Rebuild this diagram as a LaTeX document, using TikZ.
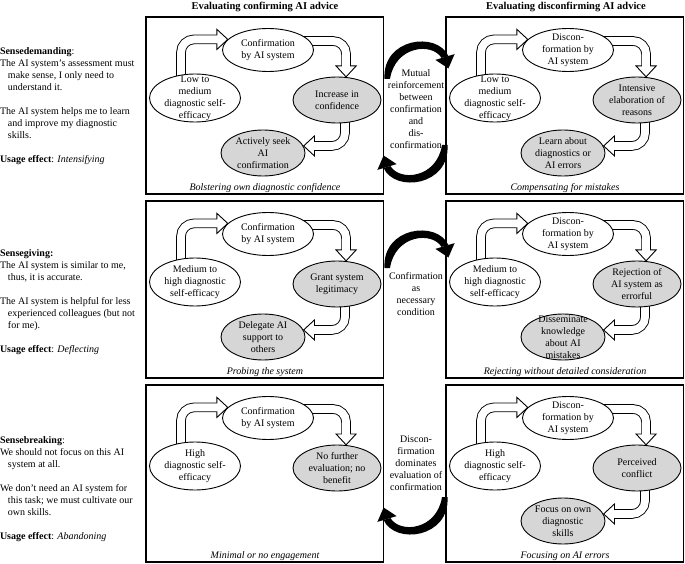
\documentclass[tikz,border=0pt]{standalone}
\usepackage{fontspec}
\setmainfont{Liberation Serif}
\usetikzlibrary{shapes.geometric,arrows.meta,backgrounds,calc}
\newcommand\hollowarrow[1]{%
  \draw[rounded corners=13pt, line width=9.6pt, shorten >=10pt] #1;
  \draw[rounded corners=13pt, line width=0.9pt, -{Triangle[length=12pt,width=22pt,fill=white]}] #1;
  \draw[rounded corners=13pt, line width=7.8pt, white, shorten >=10pt] #1;
}
\newcommand\mkbox[2]{\node[panel] (#1box) at (0,0) {};
  \node[capt] (#1cap) at (119,171) {#2};}
\newcommand\mkconf[2]{\node[ell, minimum width=91pt, minimum height=43pt] (#1c) at (122,33) {};
  \node[etxt] (#1ct) at (#1c) {#2};}
\newcommand\mklow[2]{\node[ell, minimum width=91pt, minimum height=48pt] (#1l) at (49,81) {};
  \node[etxt] (#1lt) at (#1l) {#2};}
\newcommand\mkgone[2]{\node[gell, minimum width=88pt, minimum height=46pt] (#1g) at (191,83) {};
  \node[etxt] (#1gt) at (#1g) {#2};}
\newcommand\mkgtwo[2]{\node[gell, minimum width=84pt, minimum height=46pt] (#1h) at (117,136) {};
  \node[etxt] (#1ht) at (#1h) {#2};}
\newcommand\mkarrows[1]{%
  \hollowarrow{($(#1l)+(-14,-12)$) |- (#1c.165)}
  \hollowarrow{($(#1c)+(30,-9)$) -| (#1g.68)}}
\newcommand\mkarrowthree[1]{%
  \hollowarrow{($(#1g)+(8,10)$) |- (#1h.10)}}
\begin{document}
\begin{tikzpicture}[x=1pt,y=-1pt,
  every node/.style={inner sep=0pt, outer sep=0pt, font=\fontsize{10}{12}\selectfont},
  ell/.style={ellipse, draw, line width=0.9pt, fill=white},
  gell/.style={ellipse, draw, line width=0.9pt, fill=black!16},
  etxt/.style={align=center},
  capt/.style={font=\fontsize{10}{12}\selectfont\itshape},
  panel/.style={draw, line width=1.1pt, anchor=north west, minimum width=237.5pt, minimum height=177pt},
  headtxt/.style={font=\fontsize{10.5}{12}\selectfont\bfseries},
  side/.style={align=left, anchor=north west},
  midtxt/.style={align=center},
]
\useasboundingbox (0,0) rectangle (685,564);
\node[headtxt] (hl) at (265,7) {Evaluating confirming AI advice};
\node[headtxt] (hr) at (566,7) {Evaluating disconfirming AI advice};

\node[side] (s1) at (0,47.7) {\textbf{Sensedemanding}:\\
The AI system's assessment must\\
\hspace*{8pt}make sense, I only need to\\
\hspace*{8pt}understand it.\\[12pt]
The AI system helps me to learn\\
\hspace*{8pt}and improve my diagnostic\\
\hspace*{8pt}skills.\\[12pt]
\textbf{Usage effect}: \textit{Intensifying}};

\node[side] (s2) at (0,249.8) {\textbf{Sensegiving:}\\
The AI system is similar to me,\\
\hspace*{8pt}thus, it is accurate.\\[12pt]
The AI system is helpful for less\\
\hspace*{8pt}experienced colleagues (but not\\
\hspace*{8pt}for me).\\[12pt]
\textbf{Usage effect}: \textit{Deflecting}};

\node[side] (s3) at (0,437) {\textbf{Sensebreaking}:\\
We should not focus on this AI\\
\hspace*{8pt}system at all.\\[12pt]
We don't need an AI system for\\
\hspace*{8pt}this task; we must cultivate our\\
\hspace*{8pt}own skills.\\[12pt]
\textbf{Usage effect}: \textit{Abandoning}};

% panels
\begin{scope}[shift={(146,17)}]
  \mkbox{tl}{Bolstering own diagnostic confidence}
  \mkconf{tl}{Confirmation\\by AI system}
  \mklow{tl}{Low to\\medium\\diagnostic self-\\efficacy}
  \mkgone{tl}{Increase in\\confidence}
  \mkgtwo{tl}{Actively seek\\AI\\confirmation}
\end{scope}
\begin{scope}[shift={(446,17)}]
  \mkbox{tr}{Compensating for mistakes}
  \mkconf{tr}{Discon-\\formation by\\AI system}
  \mklow{tr}{Low to\\medium\\diagnostic self-\\efficacy}
  \mkgone{tr}{Intensive\\elaboration of\\reasons}
  \mkgtwo{tr}{Learn about\\diagnostics or\\AI errors}
\end{scope}
\begin{scope}[shift={(146,201)}]
  \mkbox{ml}{Probing the system}
  \mkconf{ml}{Confirmation\\by AI system}
  \mklow{ml}{Medium to\\high diagnostic\\self-efficacy}
  \mkgone{ml}{Grant system\\legitimacy}
  \mkgtwo{ml}{Delegate AI\\support to\\others}
\end{scope}
\begin{scope}[shift={(446,201)}]
  \mkbox{mr}{Rejecting without detailed consideration}
  \mkconf{mr}{Discon-\\formation by\\AI system}
  \mklow{mr}{Medium to\\high diagnostic\\self-efficacy}
  \mkgone{mr}{Rejection of\\AI system as\\errorful}
  \mkgtwo{mr}{Disseminate\\knowledge\\about AI\\mistakes}
\end{scope}
\begin{scope}[shift={(146,385)}]
  \mkbox{bl}{Minimal or no engagement}
  \mkconf{bl}{Confirmation\\by AI system}
  \mklow{bl}{High\\diagnostic self-\\efficacy}
  \mkgone{bl}{No further\\evaluation; no\\benefit}
\end{scope}
\begin{scope}[shift={(446,385)}]
  \mkbox{br}{Focusing on AI errors}
  \mkconf{br}{Discon-\\formation by\\AI system}
  \mklow{br}{High\\diagnostic self-\\efficacy}
  \mkgone{br}{Perceived\\conflict}
  \mkgtwo{br}{Focus on own\\diagnostic\\skills}
\end{scope}

\begin{scope}[on background layer]
  \mkarrows{tl}\mkarrowthree{tl}
  \mkarrows{tr}\mkarrowthree{tr}
  \mkarrows{ml}\mkarrowthree{ml}
  \mkarrows{mr}\mkarrowthree{mr}
  \mkarrows{bl}
  \mkarrows{br}\mkarrowthree{br}
\end{scope}

% middle column
\node[midtxt] (m1) at (416,109) {Mutual\\reinforcement\\between\\confirmation\\and\\dis-\\confirmation};
\node[midtxt] (m2) at (416,294) {Confirmation\\as\\necessary\\condition};
\node[midtxt] (m3) at (416,463) {Discon-\\firmation\\dominates\\evaluation of\\confirmation};

% black curved arrows
\fill (384.5,79) .. controls (382,38) and (437,31) .. (448.4,56) -- (441.6,58) .. controls (432,42) and (395,46) .. (390,79) -- cycle;
\fill (454.6,54.1) -- (448.4,68.5) -- (435.4,59.9) -- cycle;
\fill (447.5,145) .. controls (450,186) and (395,193) .. (383.6,168) -- (390.4,166) .. controls (400,182) and (437,178) .. (442,145) -- cycle;
\fill (377.4,169.9) -- (383.6,155.5) -- (396.6,164.1) -- cycle;
\fill (384.5,268) .. controls (382,227) and (437,220) .. (448.4,245) -- (441.6,247) .. controls (432,231) and (395,235) .. (390,268) -- cycle;
\fill (454.6,243.1) -- (448.4,257.5) -- (435.4,248.9) -- cycle;
\fill (447.5,497) .. controls (450,538) and (395,545) .. (383.6,520) -- (390.4,518) .. controls (400,534) and (437,530) .. (442,497) -- cycle;
\fill (377.4,521.9) -- (383.6,507.5) -- (396.6,516.1) -- cycle;
\end{tikzpicture}
\end{document}
